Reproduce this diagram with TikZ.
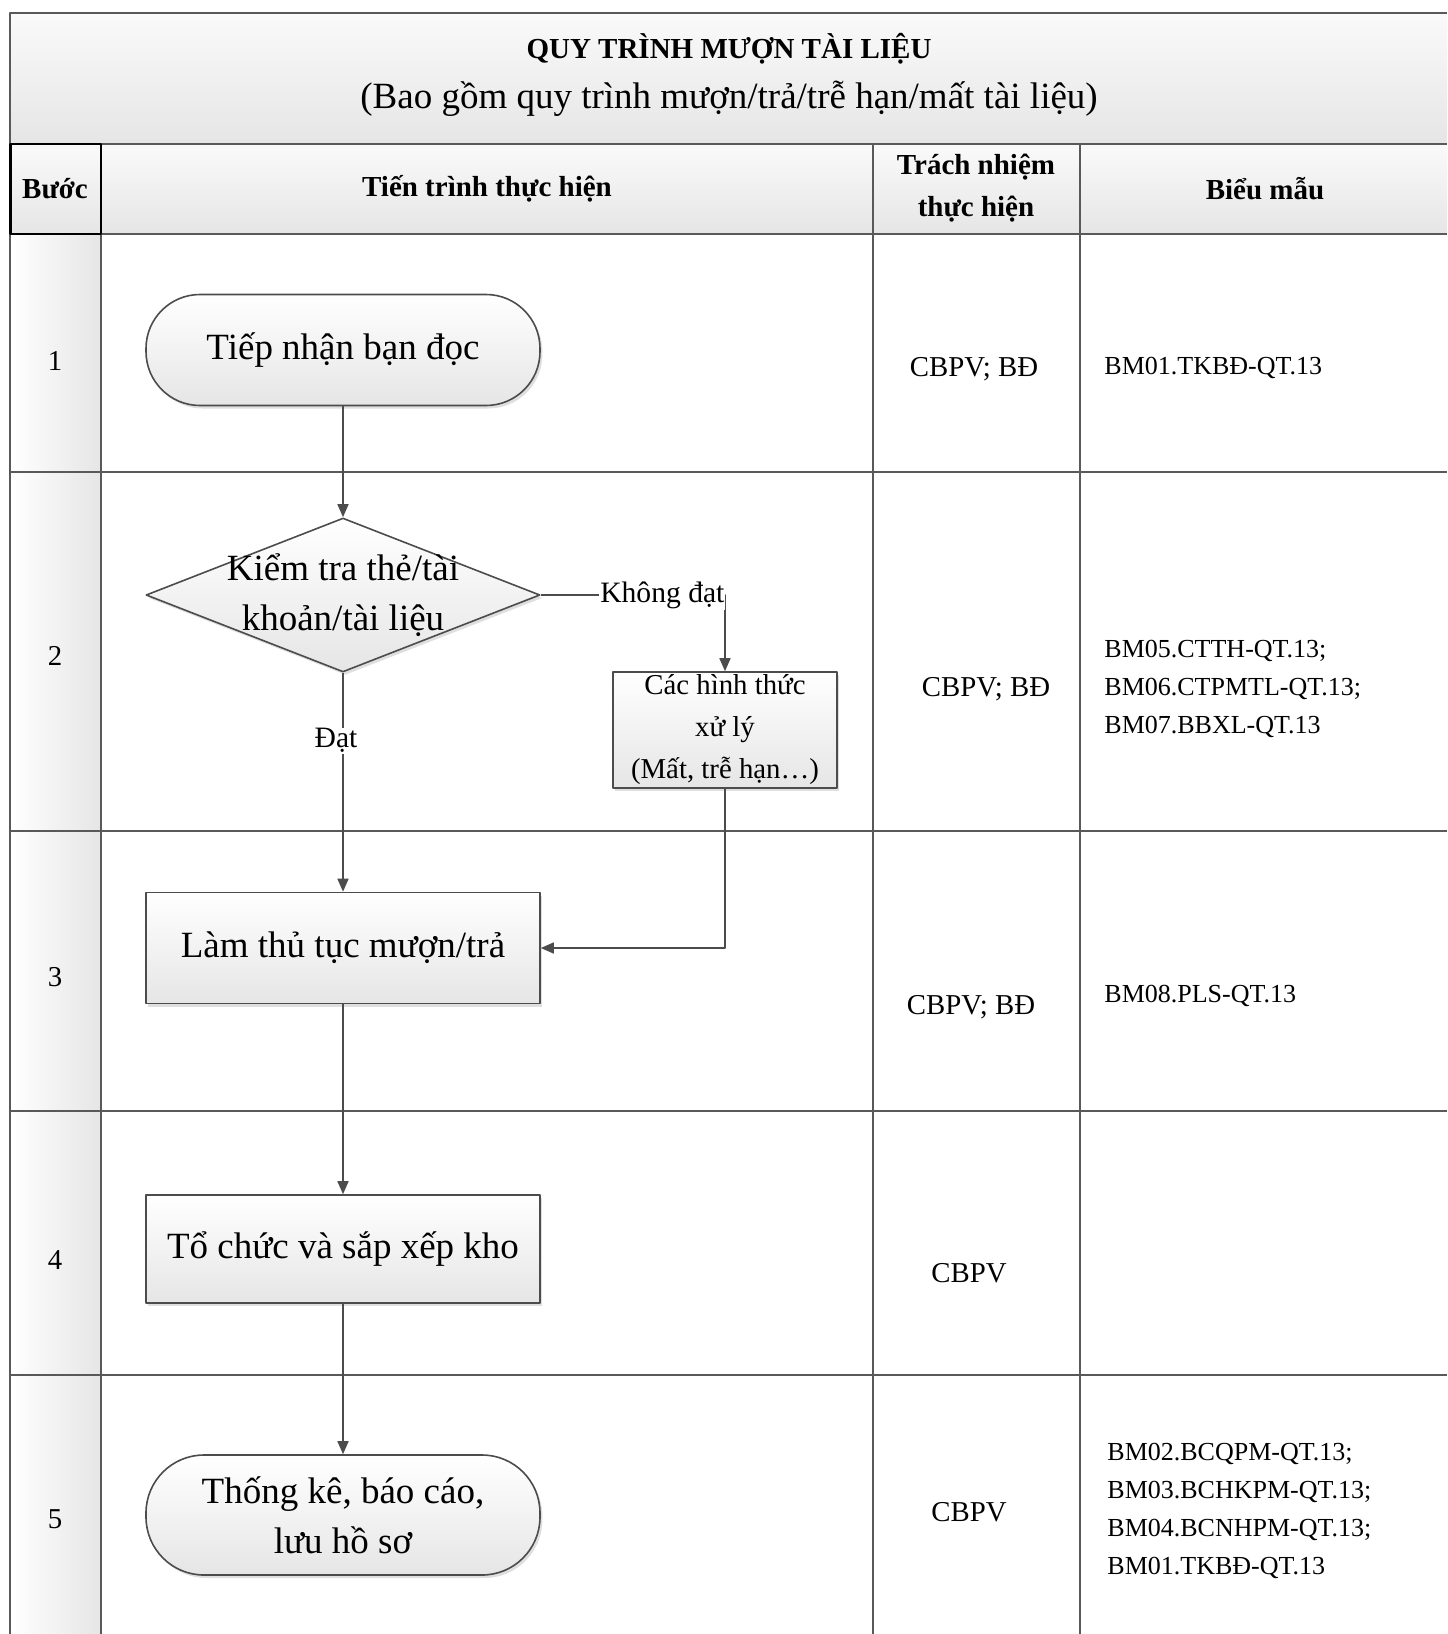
\documentclass[tikz,border=0pt]{standalone}
\usepackage{fontspec}
\setmainfont{Liberation Serif}
\usetikzlibrary{shapes.geometric,arrows.meta,shadows}
\tikzset{
	khung/.style={draw=black!65,line width=1pt},
	bong/.style={drop shadow={shadow xshift=1.2pt,shadow yshift=-1.5pt,opacity=.25}},
	hinh/.style={draw=black!70,line width=.8pt,top color=white,bottom color=black!10,bong,
		inner sep=0pt,align=center,font=\fontsize{18.5}{25}\selectfont},
	batdau/.style={hinh,rounded corners=27pt,minimum width=197pt,minimum height=55.5pt},
	buoc/.style={hinh,minimum width=197pt,minimum height=55.5pt},
	quyetdinh/.style={hinh,diamond,minimum width=197pt,minimum height=77pt},
	xuly/.style={hinh,minimum width=112pt,minimum height=58pt,font=\fontsize{14.4}{21}\selectfont},
	noi/.style={draw=black!70,line width=.8pt,-{Triangle[length=6.5pt,width=5.5pt]}},
	nhan/.style={fill=white,inner sep=.5pt,font=\fontsize{14.8}{18}\selectfont},
	dau/.style={font=\bfseries\fontsize{14.5}{21}\selectfont,align=center},
	chu/.style={font=\fontsize{14.4}{18}\selectfont},
	mau/.style={anchor=west,inner sep=0pt,align=left,font=\fontsize{13}{19}\selectfont}
}
\begin{document}
\begin{tikzpicture}[x=0.5pt,y=-0.5pt,line join=round]
	%==Kích thước khung
	\def\W{1447}
	\def\H{1634}
	%==============
	\useasboundingbox (0,0) rectangle (\W,\H);
	\shade[top color=black!2,bottom color=black!10] (10.4,12.5) rectangle (\W,144);
	\shade[top color=black!2,bottom color=black!10] (10.4,144) rectangle (\W,234);
	\foreach \y/\yy in {234/472,472/831,831/1111,1111/1375,1375/\H}
		\shade[left color=white,right color=black!10] (10.4,\y) rectangle (101,\yy);
	\draw[khung] (\W,12.5)--(10.4,12.5)--(10.4,\H);
	\foreach \y in {144,234,472,831,1111,1375}\draw[khung] (10.4,\y)--(\W,\y);
	\foreach \x in {101,873,1080}\draw[khung] (\x,144)--(\x,\H);
	\draw[black,line width=1.3pt] (10.4,144) rectangle (101,234);
	%==Tiêu đề
	\node[dau] (qt) at (729,49) {QUY TRÌNH MƯỢN TÀI LIỆU};
	\node[font=\fontsize{18.5}{22}\selectfont] (bg) at (729,99) {(Bao gồm quy trình mượn/trả/trễ hạn/mất tài liệu)};
	\node[dau] (hb) at (55,189) {Bước};
	\node[dau] (htt) at (487,189) {Tiến trình thực hiện};
	\node[dau] (htn) at (976,188) {Trách nhiệm\\thực hiện};
	\node[dau] (hbm) at (1265,189) {Biểu mẫu};
	%==Cột bước, trách nhiệm
	\foreach \i/\y in {1/361,2/656,3/977,4/1260,5/1519}\node[chu] (so\i) at (55,\y) {\i};
	\foreach \i/\x/\y/\t in {1/974/369/CBPV; BĐ,2/986/689/CBPV; BĐ,3/971/1007/CBPV; BĐ,4/969/1273/CBPV,5/969/1512/CBPV}
		\node[chu] (tn\i) at (\x,\y) {\t};
	%==Cột biểu mẫu
	\node[mau] (bm1) at (1104,368) {BM01.TKBĐ-QT.13};
	\node[mau] (bm2) at (1104,689) {BM05.CTTH-QT.13;\\BM06.CTPMTL-QT.13;\\BM07.BBXL-QT.13};
	\node[mau] (bm3) at (1104,996) {BM08.PLS-QT.13};
	\node[mau] (bm5) at (1107,1511) {BM02.BCQPM-QT.13;\\BM03.BCHKPM-QT.13;\\BM04.BCNHPM-QT.13;\\BM01.TKBĐ-QT.13};
	%==Lưu đồ
	\node[batdau] (tiepnhan) at (343,350) {Tiếp nhận bạn đọc};
	\node[quyetdinh] (kiemtra) at (343,595) {};
	\node[align=center,font=\fontsize{18.5}{25}\selectfont] (kiemtrachu) at (kiemtra) {Kiểm tra thẻ/tài\\khoản/tài liệu};
	\node[xuly] (xuly) at (725,730) {Các hình thức\\xử lý\\(Mất, trễ hạn…)};
	\node[buoc] (thutuc) at (343,948) {Làm thủ tục mượn/trả};
	\node[buoc,minimum height=54pt] (kho) at (343,1249) {Tổ chức và sắp xếp kho};
	\node[batdau,rounded corners=29pt,minimum height=60pt] (thongke) at (343,1515) {Thống kê, báo cáo,\\lưu hồ sơ};
	\draw[noi] (tiepnhan)--(kiemtra);
	\draw[noi] (kiemtra.east)-|(xuly.north) node[nhan,pos=.33]{Không đạt};
	\draw[noi] (kiemtra)--(thutuc) node[nhan,pos=.31,xshift=-3.5pt]{Đạt};
	\draw[noi] (xuly.south)|-(thutuc.east);
	\draw[noi] (thutuc)--(kho);
	\draw[noi] (kho)--(thongke);
\end{tikzpicture}
\end{document}
